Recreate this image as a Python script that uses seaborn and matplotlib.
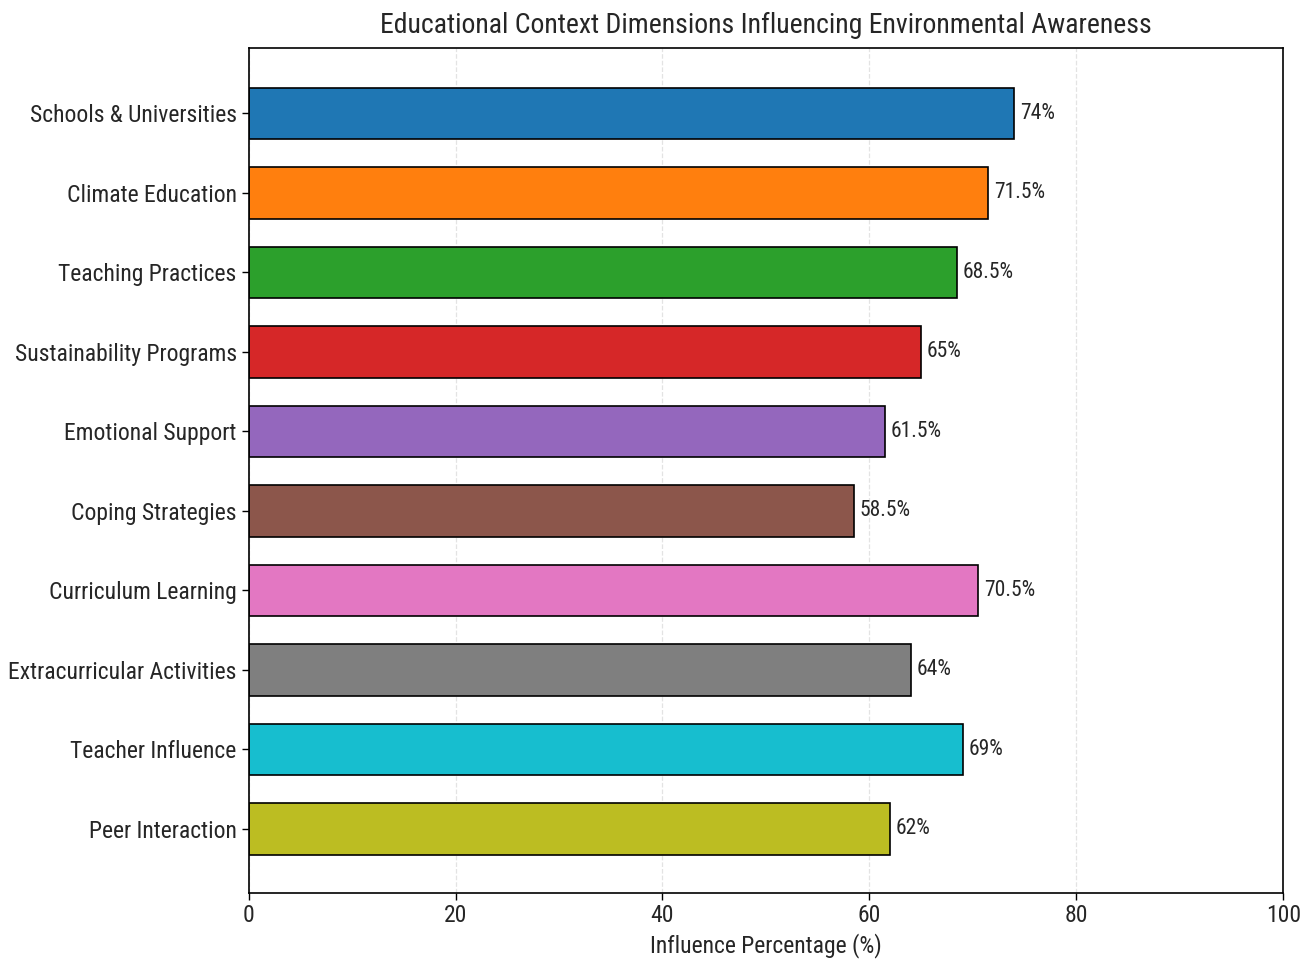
import matplotlib
matplotlib.use("Agg")
import matplotlib.pyplot as plt
from matplotlib import font_manager
import seaborn as sns
import pandas as pd

categories = [
    "Schools & Universities",
    "Climate Education",
    "Teaching Practices",
    "Sustainability Programs",
    "Emotional Support",
    "Coping Strategies",
    "Curriculum Learning",
    "Extracurricular Activities",
    "Teacher Influence",
    "Peer Interaction",
]
values = [74, 71.5, 68.5, 65, 61.5, 58.5, 70.5, 64, 69, 62]
bar_colors = ["#1f77b4", "#ff7f0e", "#2ca02c", "#d62728", "#9467bd",
              "#8c564b", "#e377c2", "#7f7f7f", "#17becf", "#bcbd22"]
x_ticks = [0, 20, 40, 60, 80, 100]

sns.set_style("white")
names = {f.name for f in font_manager.fontManager.ttflist}
family = "DejaVu Sans"
for cand in ["DejaVu Sans Condensed", "Roboto Condensed", "Liberation Sans Narrow"]:
    if cand in names:
        family = cand
        break
plt.rcParams["font.family"] = [family, "DejaVu Sans"]
plt.rcParams["font.stretch"] = "condensed"

df = pd.DataFrame({"category": categories, "value": values})

fig, ax = plt.subplots(figsize=(13.15, 9.66), dpi=100)
fig.subplots_adjust(left=0.189, right=0.976, top=0.950, bottom=0.076)

sns.barplot(
    data=df, x="value", y="category", hue="category", order=categories,
    palette=bar_colors, orient="h", width=0.65, edgecolor="black",
    linewidth=1.2, legend=False, ax=ax, saturation=1,
)

for container in ax.containers:
    ax.bar_label(container, labels=[f"{v:g}%" for v in container.datavalues],
                 padding=4, fontsize=15.5)

ax.set_xlim(0, 100)
ax.set_ylim(9.8, -0.82)
ax.set_xticks(x_ticks)
ax.tick_params(axis="both", labelsize=17, length=5, width=1, color="black",
               bottom=True, left=True)
ax.grid(axis="x", linestyle="--", color="#dddddd", alpha=0.8, linewidth=0.9)
ax.set_axisbelow(True)
for s in ax.spines.values():
    s.set_color("black")
    s.set_linewidth(1.2)

ax.set_xlabel("Influence Percentage (%)", fontsize=17)
ax.set_ylabel("")
ax.set_title("Educational Context Dimensions Influencing Environmental Awareness",
             fontsize=20, pad=11)

fig.savefig("out.png", dpi=100)
